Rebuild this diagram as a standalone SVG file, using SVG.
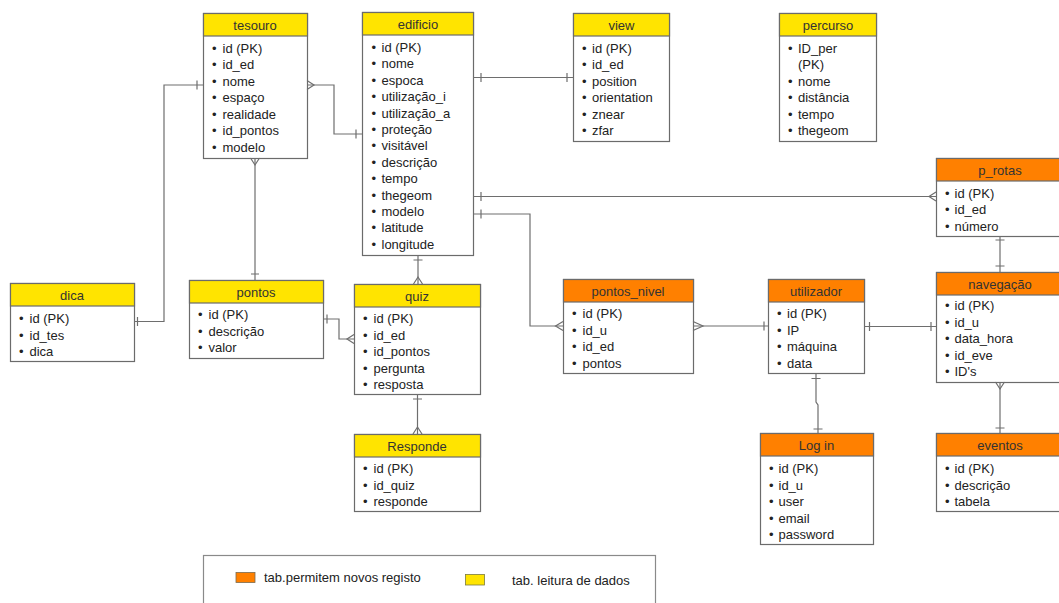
<svg xmlns="http://www.w3.org/2000/svg" width="1059" height="603" viewBox="0 0 1059 603">
<style>
.box{fill:#fff;stroke:#6b6b6b;stroke-width:1.2}
.hy{fill:#ffe400;stroke:#6b6b6b;stroke-width:1.2}
.ho{fill:#ff8000;stroke:#6b6b6b;stroke-width:1.2}
.t{font-family:"Liberation Sans",Arial,sans-serif;font-size:13px;fill:#222}
.h{font-family:"Liberation Sans",Arial,sans-serif;font-size:13px;fill:#333;text-anchor:middle}
.c{fill:none;stroke:#6e6e6e;stroke-width:1.2}
</style>
<rect width="1059" height="603" fill="#fff"/>

<g id="tesouro" transform="translate(203,13)">
<rect class="box" x="0.5" y="0.5" width="104" height="145"/>
<rect class="hy" x="0.5" y="0.5" width="104" height="22.5"/>
<text class="h" x="52" y="16.5">tesouro</text>
<text class="t" x="9" y="39.5">•<tspan x="19.5">id (PK)</tspan></text>
<text class="t" x="9" y="56">•<tspan x="19.5">id_ed</tspan></text>
<text class="t" x="9" y="72.5">•<tspan x="19.5">nome</tspan></text>
<text class="t" x="9" y="89">•<tspan x="19.5">espaço</tspan></text>
<text class="t" x="9" y="105.5">•<tspan x="19.5">realidade</tspan></text>
<text class="t" x="9" y="122">•<tspan x="19.5">id_pontos</tspan></text>
<text class="t" x="9" y="138.5">•<tspan x="19.5">modelo</tspan></text>
</g>

<g id="edificio" transform="translate(362,12)">
<rect class="box" x="0.5" y="0.5" width="111" height="243"/>
<rect class="hy" x="0.5" y="0.5" width="111" height="22.5"/>
<text class="h" x="56" y="16.5">edificio</text>
<text class="t" x="9.5" y="40">•<tspan x="19.5">id (PK)</tspan></text>
<text class="t" x="9.5" y="56.4">•<tspan x="19.5">nome</tspan></text>
<text class="t" x="9.5" y="72.8">•<tspan x="19.5">espoca</tspan></text>
<text class="t" x="9.5" y="89.2">•<tspan x="19.5">utilização_i</tspan></text>
<text class="t" x="9.5" y="105.6">•<tspan x="19.5">utilização_a</tspan></text>
<text class="t" x="9.5" y="122">•<tspan x="19.5">proteção</tspan></text>
<text class="t" x="9.5" y="138.4">•<tspan x="19.5">visitável</tspan></text>
<text class="t" x="9.5" y="154.8">•<tspan x="19.5">descrição</tspan></text>
<text class="t" x="9.5" y="171.2">•<tspan x="19.5">tempo</tspan></text>
<text class="t" x="9.5" y="187.6">•<tspan x="19.5">thegeom</tspan></text>
<text class="t" x="9.5" y="204">•<tspan x="19.5">modelo</tspan></text>
<text class="t" x="9.5" y="220.4">•<tspan x="19.5">latitude</tspan></text>
<text class="t" x="9.5" y="236.8">•<tspan x="19.5">longitude</tspan></text>
</g>

<g id="view" transform="translate(573,13)">
<rect class="box" x="0.5" y="0.5" width="96" height="128"/>
<rect class="hy" x="0.5" y="0.5" width="96" height="22.5"/>
<text class="h" x="48.5" y="16.5">view</text>
<text class="t" x="9" y="39.5">•<tspan x="19">id (PK)</tspan></text>
<text class="t" x="9" y="56">•<tspan x="19">id_ed</tspan></text>
<text class="t" x="9" y="72.5">•<tspan x="19">position</tspan></text>
<text class="t" x="9" y="89">•<tspan x="19">orientation</tspan></text>
<text class="t" x="9" y="105.5">•<tspan x="19">znear</tspan></text>
<text class="t" x="9" y="122">•<tspan x="19">zfar</tspan></text>
</g>

<g id="percurso" transform="translate(779,13)">
<rect class="box" x="0.5" y="0.5" width="97" height="128"/>
<rect class="hy" x="0.5" y="0.5" width="97" height="22.5"/>
<text class="h" x="49" y="16.5">percurso</text>
<text class="t" x="9" y="39.5">•<tspan x="19">ID_per</tspan></text>
<text class="t" x="19" y="56">(PK)</text>
<text class="t" x="9" y="72.5">•<tspan x="19">nome</tspan></text>
<text class="t" x="9" y="89">•<tspan x="19">distância</tspan></text>
<text class="t" x="9" y="105.5">•<tspan x="19">tempo</tspan></text>
<text class="t" x="9" y="122">•<tspan x="19">thegeom</tspan></text>
</g>

<g id="dica" transform="translate(10,283)">
<rect class="box" x="0.5" y="0.5" width="124" height="78"/>
<rect class="hy" x="0.5" y="0.5" width="124" height="22.5"/>
<text class="h" x="62" y="16.5">dica</text>
<text class="t" x="9" y="40">•<tspan x="19.5">id (PK)</tspan></text>
<text class="t" x="9" y="56.5">•<tspan x="19.5">id_tes</tspan></text>
<text class="t" x="9" y="73">•<tspan x="19.5">dica</tspan></text>
</g>

<g id="pontos" transform="translate(189,280)">
<rect class="box" x="0.5" y="0.5" width="134" height="78"/>
<rect class="hy" x="0.5" y="0.5" width="134" height="22.5"/>
<text class="h" x="67" y="16.5">pontos</text>
<text class="t" x="9" y="39">•<tspan x="19.5">id (PK)</tspan></text>
<text class="t" x="9" y="55.5">•<tspan x="19.5">descrição</tspan></text>
<text class="t" x="9" y="72">•<tspan x="19.5">valor</tspan></text>
</g>

<g id="quiz" transform="translate(354,284)">
<rect class="box" x="0.5" y="0.5" width="126" height="110"/>
<rect class="hy" x="0.5" y="0.5" width="126" height="22.5"/>
<text class="h" x="63" y="16.5">quiz</text>
<text class="t" x="9" y="39">•<tspan x="19.5">id (PK)</tspan></text>
<text class="t" x="9" y="55.5">•<tspan x="19.5">id_ed</tspan></text>
<text class="t" x="9" y="72">•<tspan x="19.5">id_pontos</tspan></text>
<text class="t" x="9" y="88.5">•<tspan x="19.5">pergunta</tspan></text>
<text class="t" x="9" y="105">•<tspan x="19.5">resposta</tspan></text>
</g>

<g id="responde" transform="translate(354,434)">
<rect class="box" x="0.5" y="0.5" width="126" height="77"/>
<rect class="hy" x="0.5" y="0.5" width="126" height="22.5"/>
<text class="h" x="63" y="16.5">Responde</text>
<text class="t" x="9" y="39">•<tspan x="19.5">id (PK)</tspan></text>
<text class="t" x="9" y="55.5">•<tspan x="19.5">id_quiz</tspan></text>
<text class="t" x="9" y="72">•<tspan x="19.5">responde</tspan></text>
</g>

<g id="pontos_nivel" transform="translate(563,279)">
<rect class="box" x="0.5" y="0.5" width="130" height="94"/>
<rect class="ho" x="0.5" y="0.5" width="130" height="22.5"/>
<text class="h" x="65" y="16.5">pontos_nivel</text>
<text class="t" x="9" y="39">•<tspan x="19.5">id (PK)</tspan></text>
<text class="t" x="9" y="55.5">•<tspan x="19.5">id_u</tspan></text>
<text class="t" x="9" y="72">•<tspan x="19.5">id_ed</tspan></text>
<text class="t" x="9" y="88.5">•<tspan x="19.5">pontos</tspan></text>
</g>

<g id="utilizador" transform="translate(768,279)">
<rect class="box" x="0.5" y="0.5" width="96" height="94"/>
<rect class="ho" x="0.5" y="0.5" width="96" height="22.5"/>
<text class="h" x="48" y="16.5">utilizador</text>
<text class="t" x="9" y="39">•<tspan x="19">id (PK)</tspan></text>
<text class="t" x="9" y="55.5">•<tspan x="19">IP</tspan></text>
<text class="t" x="9" y="72">•<tspan x="19">máquina</tspan></text>
<text class="t" x="9" y="88.5">•<tspan x="19">data</tspan></text>
</g>

<g id="login" transform="translate(760,433)">
<rect class="box" x="0.5" y="0.5" width="113" height="111"/>
<rect class="ho" x="0.5" y="0.5" width="113" height="22.5"/>
<text class="h" x="56.5" y="16.5">Log in</text>
<text class="t" x="9" y="40">•<tspan x="18.5">id (PK)</tspan></text>
<text class="t" x="9" y="56.5">•<tspan x="18.5">id_u</tspan></text>
<text class="t" x="9" y="73">•<tspan x="18.5">user</tspan></text>
<text class="t" x="9" y="89.5">•<tspan x="18.5">email</tspan></text>
<text class="t" x="9" y="106">•<tspan x="18.5">password</tspan></text>
</g>

<g id="p_rotas" transform="translate(936,158)">
<rect class="box" x="0.5" y="0.5" width="127" height="78"/>
<rect class="ho" x="0.5" y="0.5" width="127" height="22.5"/>
<text class="h" x="64" y="16.5">p_rotas</text>
<text class="t" x="9" y="39.5">•<tspan x="18.5">id (PK)</tspan></text>
<text class="t" x="9" y="56">•<tspan x="18.5">id_ed</tspan></text>
<text class="t" x="9" y="72.5">•<tspan x="18.5">número</tspan></text>
</g>

<g id="navegacao" transform="translate(936,272)">
<rect class="box" x="0.5" y="0.5" width="127" height="110"/>
<rect class="ho" x="0.5" y="0.5" width="127" height="22.5"/>
<text class="h" x="64" y="16.5">navegação</text>
<text class="t" x="9" y="38">•<tspan x="18.5">id (PK)</tspan></text>
<text class="t" x="9" y="54.5">•<tspan x="18.5">id_u</tspan></text>
<text class="t" x="9" y="71">•<tspan x="18.5">data_hora</tspan></text>
<text class="t" x="9" y="87.5">•<tspan x="18.5">id_eve</tspan></text>
<text class="t" x="9" y="104">•<tspan x="18.5">ID's</tspan></text>
</g>

<g id="eventos" transform="translate(936,433)">
<rect class="box" x="0.5" y="0.5" width="127" height="78"/>
<rect class="ho" x="0.5" y="0.5" width="127" height="22.5"/>
<text class="h" x="64" y="16.5">eventos</text>
<text class="t" x="9" y="40">•<tspan x="18.5">id (PK)</tspan></text>
<text class="t" x="9" y="56.5">•<tspan x="18.5">descrição</tspan></text>
<text class="t" x="9" y="73">•<tspan x="18.5">tabela</tspan></text>
</g>

<g id="connectors">
<path class="c" d="M134,321.5 H164 V85 H203"/>
<path class="c" d="M137.5,317 V326 M197,80.5 V89.5"/>
<path class="c" d="M307,85 H334 V134 H362"/>
<path class="c" d="M307,80.5 L314,85 L307,89.5 M356,129.5 V138.5"/>
<path class="c" d="M255,158 V280"/>
<path class="c" d="M250.5,158 L255,165 L259.5,158 M251,274 H259"/>
<path class="c" d="M473,77.5 H573"/>
<path class="c" d="M481,73 V82 M567,73 V82"/>
<path class="c" d="M473,196.5 H936"/>
<path class="c" d="M481,192 V201 M936,192 L929,196.5 L936,201"/>
<path class="c" d="M473,214 H530 V326 H563"/>
<path class="c" d="M481,209.5 V218.5 M563,321.5 L555.5,326 L563,330.5"/>
<path class="c" d="M418,255 V284"/>
<path class="c" d="M413.5,260 H422.5 M413.5,284 L418,277 L422.5,284"/>
<path class="c" d="M323,319 H339 V339 H354"/>
<path class="c" d="M327,314.5 V323.5 M354,334.5 L347,339 L354,343.5"/>
<path class="c" d="M417.5,394 V434"/>
<path class="c" d="M413,399 H422 M413,434 L417.5,427 L422,434"/>
<path class="c" d="M693,326 H768"/>
<path class="c" d="M693,321.5 L703,326 L693,330.5 M764,321.5 V330.5"/>
<path class="c" d="M864,326.5 H936"/>
<path class="c" d="M869.5,322 V331 M931,322 V331"/>
<path class="c" d="M816,373 V402 L818,405 V433"/>
<path class="c" d="M811.5,378.5 H820.5 M813.5,429 H822.5"/>
<path class="c" d="M1000,236 V272"/>
<path class="c" d="M995.5,240 H1004.5 M995.5,266 H1004.5"/>
<path class="c" d="M1000,382 V433"/>
<path class="c" d="M995.5,382 L1000,389 L1004.5,382 M995.5,428 H1004.5"/>
</g>

<g id="legend">
<rect x="203.5" y="555.5" width="452" height="60" fill="#fff" stroke="#8a8a8a" stroke-width="1.2"/>
<rect x="236" y="572.5" width="19" height="10" fill="#ff8000" stroke="#7a6a50" stroke-width="0.8"/>
<text class="t" x="264" y="581.5">tab.permitem novos registo</text>
<rect x="465.5" y="574.5" width="19" height="10.5" fill="#ffe400" stroke="#7a7a40" stroke-width="0.8"/>
<text class="t" x="512" y="585">tab. leitura de dados</text>
</g>
</svg>
